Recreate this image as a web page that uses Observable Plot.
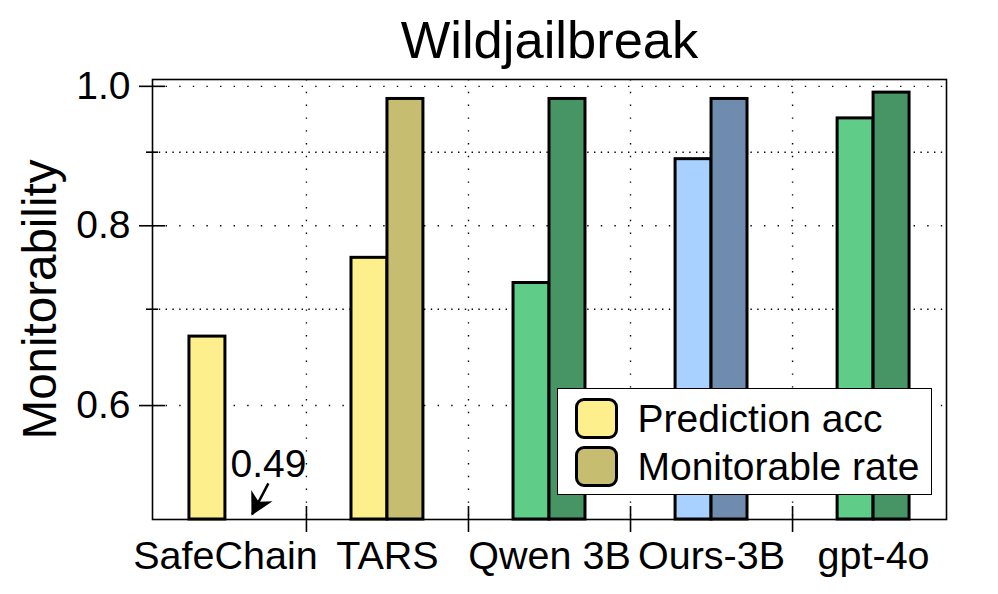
<!DOCTYPE html>
<html><head><meta charset="utf-8">
<script src="https://cdn.jsdelivr.net/npm/d3@7"></script>
<script src="https://cdn.jsdelivr.net/npm/@observablehq/plot@0.6"></script>
<style>
body{margin:0;background:#fff;}
#wrap{position:relative;width:998px;height:594px;font-family:"Liberation Sans",Arial,Helvetica,sans-serif;}
#legend{position:absolute;left:557px;top:388px;width:375px;height:107px;box-sizing:border-box;border:1.5px solid #000;background:#fff;}
.item{position:absolute;left:16.5px;display:flex;align-items:center;}
.sw{width:43px;height:41px;box-sizing:border-box;border:3px solid #000;border-radius:9px;}
.lab{margin-left:20px;font-size:39px;color:#000;line-height:1.15;}
</style></head><body><div id="wrap"></div>
<script>
const categories = ["SafeChain", "TARS", "Qwen 3B", "Ours-3B", "gpt-4o"];
const seriesNames = ["Prediction acc", "Monitorable rate"];
const predictionAcc = [0.67, 0.76, 0.73, 0.89, 0.95];
const monitorableRate = [0.49, 0.98, 0.98, 0.98, 0.99];
const predictionColors = ["#FDEF8C", "#FDEF8C", "#5FCC88", "#A9D1FF", "#5FCC88"];
const monitorableColors = ["#C6BD71", "#C6BD71", "#479565", "#6F8BAE", "#479565"];
const legendColors = ["#FDEF8C", "#C6BD71"];
const yMajorTicks = [0.6, 0.8, 1.0];
const yMinorTicks = [0.7, 0.9];
const title = "Wildjailbreak";
const yLabel = "Monitorability";
const annotationLabel = [{x: 0.031, y: 0.5463, text: "0.49"}];
const annotationArrow = [{x1: 0.265, y1: 0.5298, x2: 0.165, y2: 0.5042}];

const yMin = 0.5, yMax = 1.011;
const barW = 0.222;

const rows = [];
categories.forEach((c, i) => {
  rows.push({cat: c, series: seriesNames[0], value: predictionAcc[i], color: predictionColors[i], x1: i - barW, x2: i});
  rows.push({cat: c, series: seriesNames[1], value: monitorableRate[i], color: monitorableColors[i], x1: i, x2: i + barW});
});
const visible = rows.filter(d => d.value > yMin);
const idx = d3.range(categories.length);
const boundaries = d3.range(categories.length - 1).map(i => i + 0.5);

function wedge(color, context) {
  const ns = "http://www.w3.org/2000/svg";
  const m = document.createElementNS(ns, "marker");
  m.setAttribute("viewBox", "-24 -13 26 26");
  m.setAttribute("markerWidth", 26);
  m.setAttribute("markerHeight", 26);
  m.setAttribute("markerUnits", "userSpaceOnUse");
  m.setAttribute("orient", "auto");
  m.setAttribute("refX", 0);
  m.setAttribute("refY", 0);
  const p = document.createElementNS(ns, "path");
  p.setAttribute("d", "M1.5,0L-21,-12L-14,0L-21,12Z");
  p.setAttribute("fill", "#000");
  p.setAttribute("stroke", "none");
  m.appendChild(p);
  return m;
}

const dot = {stroke: "#000", strokeWidth: 1.4};
const plot = Plot.plot({
  width: 998, height: 594,
  marginLeft: 152, marginRight: 52, marginTop: 79, marginBottom: 75,
  x: {type: "linear", domain: [-0.45, 4.45]},
  y: {type: "log", domain: [yMin, yMax]},
  color: {type: "identity"},
  style: {fontFamily: '"Liberation Sans", Arial, Helvetica, sans-serif', fontSize: "39px", color: "#000", background: "#fff", overflow: "visible"},
  marks: [
    Plot.ruleY(yMajorTicks, {...dot, strokeDasharray: "1.4,12.2"}),
    Plot.ruleY(yMinorTicks, {...dot, strokeDasharray: "1.4,5.4"}),
    Plot.ruleX(boundaries, {...dot, strokeDasharray: "1.4,11.4"}),
    Plot.rectY(visible, {x1: "x1", x2: "x2", y1: yMin, y2: "value", fill: "color", stroke: "#000", strokeWidth: 3}),
    Plot.frame({stroke: "#000", strokeWidth: 1.6}),
    Plot.axisY(yMajorTicks, {tickSize: 0, tickPadding: 22, tickFormat: d3.format(".1f"), fontSize: 39, label: null}),
    Plot.axisY(yMajorTicks, {tickSize: 26, dx: 13, tickFormat: () => "", strokeWidth: 1.6, label: null}),
    Plot.axisY(yMinorTicks, {tickSize: 12, dx: 6, tickFormat: () => "", strokeWidth: 1.6, label: null}),
    Plot.axisX(idx, {tickSize: 0, tickPadding: 21, tickFormat: i => categories[i], fontSize: 39.5, label: null}),
    Plot.axisX(boundaries, {tickSize: 26, dy: -13, tickFormat: () => "", strokeWidth: 1.6, label: null}),
    Plot.text([title], {text: d => d, frameAnchor: "top", textAnchor: "middle", lineAnchor: "middle", dy: -38.5, fontSize: 52.5}),
    Plot.text([yLabel], {text: d => d, frameAnchor: "left", textAnchor: "middle", lineAnchor: "middle", dx: -112, rotate: -90, fontSize: 47.5}),
    Plot.text(annotationLabel, {x: "x", y: "y", text: "text", textAnchor: "start", lineAnchor: "middle", fontSize: 39}),
    Plot.link(annotationArrow, {x1: "x1", y1: "y1", x2: "x2", y2: "y2", stroke: "#000", strokeWidth: 2.5, markerEnd: wedge})
  ]
});
const wrap = document.getElementById("wrap");
wrap.appendChild(plot);

const legend = document.createElement("div");
legend.id = "legend";
seriesNames.forEach((s, k) => {
  const item = document.createElement("div");
  item.className = "item";
  item.style.top = (k === 0 ? 7.5 : 55.5) + "px";
  const sw = document.createElement("div");
  sw.className = "sw";
  sw.style.background = legendColors[k];
  const lab = document.createElement("span");
  lab.className = "lab";
  lab.textContent = s;
  item.appendChild(sw); item.appendChild(lab);
  legend.appendChild(item);
});
wrap.appendChild(legend);
</script></body></html>
